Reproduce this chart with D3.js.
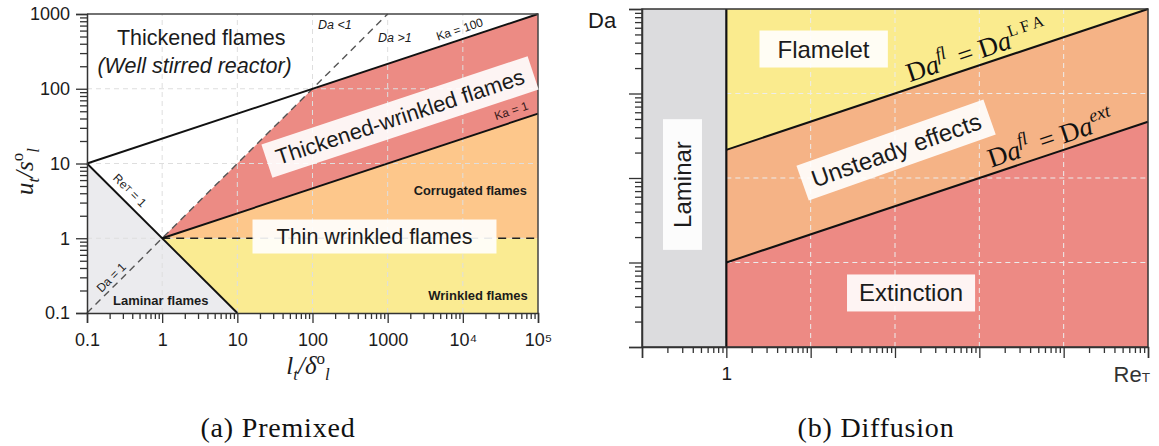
<!DOCTYPE html>
<html><head><meta charset="utf-8">
<script src="https://cdn.jsdelivr.net/npm/d3@7"></script>
<style>body{margin:0;background:#fff} svg{display:block}</style>
</head><body><svg id="c" width="1159" height="446"></svg>
<script>
// ================= DATA =================
// (a) Premixed: x = l_t/δ_l, y = u_t/s_l
const premixedXTicks = [0.1, 1, 10, 100, 1000, 1e4, 1e5];
const premixedXTickLabels = ["0.1", "1", "10", "100", "1000", "10⁴", "10⁵"];
const premixedYTicks = [0.1, 1, 10, 100, 1000];
const premixedYTickLabels = ["0.1", "1", "10", "100", "1000"];
// boundaries
const reT1Line   = [[0.1, 10], [10, 0.1]];
const ka100Line  = [[0.1, 10], [1e5, 1000]];
const ka1Line    = [[1, 1], [1e5, 46.4]];
const da1Line    = [[0.1, 0.1], [1000, 1000]];
const unityLine  = [[1, 1], [1e5, 1]];
// regions
const laminarRegion        = [[0.1, 10], [0.1, 0.1], [10, 0.1]];
const wrinkledRegion       = [[1, 1], [10, 0.1], [1e5, 0.1], [1e5, 1]];
const corrugatedRegion     = [[1, 1], [1e5, 1], [1e5, 46.4]];
const thickWrinkledRegion  = [[1, 1], [100, 100], [1e5, 1000], [1e5, 46.4]];

// (b) Diffusion: x = Re_T, y = Da
const diffusionXTicks = [0.1, 1, 10, 100, 1000, 1e4, 1e5];
const diffusionXTickLabels = ["", "1", "", "", "", "", ""];
const diffusionYTicks = [0.01, 0.1, 1, 10, 100];
const daLFALine = [[1, 2.154], [1e5, 100]];
const daExtLine = [[1, 0.1], [1e5, 4.64]];
const diffLaminarRegion = [[0.1, 0.01], [0.1, 100], [1, 100], [1, 0.01]];
const flameletRegion    = [[1, 2.154], [1, 100], [1e5, 100]];
const unsteadyRegion    = [[1, 0.1], [1, 2.154], [1e5, 100], [1e5, 4.64]];
const extinctionRegion  = [[1, 0.01], [1, 0.1], [1e5, 4.64], [1e5, 0.01]];
const diffusionWall     = [[1, 0.01], [1, 100]];

// ================= DRAW =================
const svg = d3.select('#c');
const SANS = "'Liberation Sans', Arial, Helvetica, sans-serif";
const SERIF = "'Liberation Serif', 'DejaVu Serif', serif";
const TXT = "#1b1b1b";

function pathOf(xs, ys, pts, closed) {
  return d3.line().x(d => xs(d[0])).y(d => ys(d[1]))(pts) + (closed ? "Z" : "");
}
function isMajor(v, majors) { return majors.some(m => Math.abs(Math.log10(m) - Math.log10(v)) < 1e-6); }

function logAxis(g, scale, orient, majors, labels, majorLen, minorLen, pad, fontSize) {
  const all = scale.ticks();
  const axis = (orient === 'left' ? d3.axisLeft(scale) : d3.axisBottom(scale))
    .tickValues(all).tickSizeOuter(0).tickSize(majorLen).tickPadding(pad)
    .tickFormat(d => { const i = majors.findIndex(m => Math.abs(Math.log10(m) - Math.log10(d)) < 1e-6); return i >= 0 ? labels[i] : ""; });
  g.call(axis);
  g.select('.domain').attr('stroke', '#333').attr('stroke-width', 1.5);
  g.selectAll('.tick line').attr('stroke', '#333').attr('stroke-width', 1.3)
    .each(function (d) {
      const len = isMajor(d, majors) ? majorLen : minorLen;
      d3.select(this).attr(orient === 'left' ? 'x2' : 'y2', orient === 'left' ? -len : len);
    });
  g.selectAll('.tick text').attr('font-family', SANS).attr('font-size', fontSize).attr('fill', TXT);
}

function boxed(g, cx, cy, angle, text, size, padX, padY, opts = {}) {
  const grp = g.append('g').attr('transform', `translate(${cx},${cy}) rotate(${angle})`);
  const rect = grp.append('rect');
  const t = grp.append('text').attr('text-anchor', 'middle').attr('dominant-baseline', 'central')
    .attr('font-family', SANS).attr('font-size', size).attr('fill', TXT).text(text);
  const bb = t.node().getBBox();
  rect.attr('x', bb.x - padX).attr('y', bb.y - padY).attr('width', bb.width + 2 * padX)
    .attr('height', bb.height + 2 * padY).attr('fill', '#fff').attr('fill-opacity', opts.op ?? 0.9);
}

function onLine(g, xs, ys, seg, xVal, offset) {
  const p0 = [xs(seg[0][0]), ys(seg[0][1])], p1 = [xs(seg[1][0]), ys(seg[1][1])];
  const ang = Math.atan2(p1[1] - p0[1], p1[0] - p0[0]) * 180 / Math.PI;
  const px = xs(xVal), t = (px - p0[0]) / (p1[0] - p0[0]), py = p0[1] + t * (p1[1] - p0[1]);
  return g.append('g').attr('transform', `translate(${px},${py}) rotate(${ang}) translate(0,${-offset})`);
}

function richText(sel, parts, size) {
  let shift = 0;
  parts.forEach(p => {
    const target = p.sup ? -size * 0.42 : p.sub ? size * 0.22 : 0;
    const ts = sel.append('tspan').text(p.t).attr('dy', target - shift);
    shift = target;
    if (p.it) ts.attr('font-style', 'italic');
    if (p.sup || p.sub) ts.attr('font-size', size * (p.fs || 0.68));
    else if (p.fs) ts.attr('font-size', size * p.fs);
    if (p.dx) ts.attr('dx', p.dx);
  });
  return sel;
}

// ---------- (a) Premixed ----------
const xL = d3.scaleLog().domain([0.1, 1e5]).range([87, 538]);
const yL = d3.scaleLog().domain([0.1, 1000]).range([313, 14]);
const gA = svg.append('g');

gA.append('path').attr('d', pathOf(xL, yL, laminarRegion, true)).attr('fill', '#ebebee');
gA.append('path').attr('d', pathOf(xL, yL, wrinkledRegion, true)).attr('fill', '#faeb92');
gA.append('path').attr('d', pathOf(xL, yL, corrugatedRegion, true)).attr('fill', '#fdc78b');
gA.append('path').attr('d', pathOf(xL, yL, thickWrinkledRegion, true)).attr('fill', '#ec8b84');

// grid
const gridXL = premixedXTicks.slice(1, -1), gridYL = premixedYTicks.slice(1, -1);
gA.selectAll('.gx').data(gridXL).join('line').attr('x1', d => xL(d)).attr('x2', d => xL(d))
  .attr('y1', yL.range()[0]).attr('y2', yL.range()[1])
  .attr('stroke', '#dedede').attr('stroke-width', 1).attr('stroke-dasharray', '5,4');
gA.selectAll('.gy').data(gridYL).join('line').attr('y1', d => yL(d)).attr('y2', d => yL(d))
  .attr('x1', xL.range()[0]).attr('x2', xL.range()[1])
  .attr('stroke', '#dedede').attr('stroke-width', 1).attr('stroke-dasharray', '5,4');

// lines
gA.append('path').attr('d', pathOf(xL, yL, da1Line)).attr('fill', 'none').attr('stroke', '#555').attr('stroke-width', 1.4).attr('stroke-dasharray', '7,5');
gA.append('path').attr('d', pathOf(xL, yL, unityLine)).attr('fill', 'none').attr('stroke', '#222').attr('stroke-width', 1.5).attr('stroke-dasharray', '8,6');
[reT1Line, ka100Line, ka1Line].forEach(l =>
  gA.append('path').attr('d', pathOf(xL, yL, l)).attr('fill', 'none').attr('stroke', '#111').attr('stroke-width', 1.9));

// frame top/right
gA.append('path').attr('d', `M${xL.range()[0]},${yL.range()[1]}H${xL.range()[1]}V${yL.range()[0]}`)
  .attr('fill', 'none').attr('stroke', '#444').attr('stroke-width', 1.5);

// axes
logAxis(gA.append('g').attr('transform', `translate(${xL.range()[0]},0)`), yL, 'left', premixedYTicks, premixedYTickLabels, 11, 7, 6, 18);
logAxis(gA.append('g').attr('transform', `translate(0,${yL.range()[0]})`), xL, 'bottom', premixedXTicks, premixedXTickLabels, 10, 6, 10, 18);

// labels
gA.append('text').attr('x', xL(3.3)).attr('y', yL(385)).attr('text-anchor', 'middle')
  .attr('font-family', SANS).attr('font-size', 21.5).attr('fill', TXT).text('Thickened flames');
gA.append('text').attr('x', xL(2.7)).attr('y', yL(163)).attr('text-anchor', 'middle')
  .attr('font-family', SANS).attr('font-style', 'italic').attr('font-size', 21.5).attr('fill', TXT).text('(Well stirred reactor)');

{
  const p0 = [xL(ka1Line[0][0]), yL(ka1Line[0][1])], p1 = [xL(ka1Line[1][0]), yL(ka1Line[1][1])];
  const ang = Math.atan2(p1[1] - p0[1], p1[0] - p0[0]) * 180 / Math.PI;
  boxed(gA, xL(1460), yL(41.9), ang, 'Thickened-wrinkled flames', 22, 10, 5, { op: 0.9 });
}
boxed(gA, xL(668), yL(1.055), 0, 'Thin wrinkled flames', 21.5, 24, 5, { op: 0.9 });

gA.append('text').attr('x', xL(7.1e4)).attr('y', yL(3.79)).attr('text-anchor', 'end')
  .attr('font-family', SANS).attr('font-weight', 'bold').attr('font-size', 12.8).attr('fill', TXT).text('Corrugated flames');
gA.append('text').attr('x', xL(7.3e4)).attr('y', yL(0.149)).attr('text-anchor', 'end')
  .attr('font-family', SANS).attr('font-weight', 'bold').attr('font-size', 13).attr('fill', TXT).text('Wrinkled flames');
gA.append('text').attr('x', xL(0.222)).attr('y', yL(0.128)).attr('text-anchor', 'start')
  .attr('font-family', SANS).attr('font-weight', 'bold').attr('font-size', 13).attr('fill', TXT).text('Laminar flames');

gA.append('text').attr('x', xL(199)).attr('y', yL(713)).attr('dy', '0.35em').attr('text-anchor', 'middle')
  .attr('font-family', SANS).attr('font-style', 'italic').attr('font-size', 12.5).attr('fill', TXT).text('Da <1');
gA.append('text').attr('x', xL(1250)).attr('y', yL(477)).attr('dy', '0.35em').attr('text-anchor', 'middle')
  .attr('font-family', SANS).attr('font-style', 'italic').attr('font-size', 12.5).attr('fill', TXT).text('Da >1');

onLine(gA, xL, yL, ka100Line, 1e4, 10).append('text').attr('text-anchor', 'middle').attr('dominant-baseline', 'central')
  .attr('font-family', SANS).attr('font-size', 12).attr('fill', TXT).text('Ka = 100');
onLine(gA, xL, yL, ka1Line, 4.9e4, 11).append('text').attr('text-anchor', 'middle').attr('dominant-baseline', 'central')
  .attr('font-family', SANS).attr('font-size', 12).attr('fill', '#3a1a1a').text('Ka = 1');
richText(onLine(gA, xL, yL, reT1Line, 0.292, 11).append('text').attr('text-anchor', 'middle').attr('dominant-baseline', 'central')
  .attr('font-family', SANS).attr('font-size', 12).attr('fill', TXT), [{ t: 'Re' }, { t: 'T', fs: 0.75 }, { t: ' = 1' }], 12);
onLine(gA, xL, yL, da1Line, 0.25, 8).append('text').attr('text-anchor', 'middle').attr('dominant-baseline', 'central')
  .attr('font-family', SANS).attr('font-size', 12).attr('fill', TXT).text('Da = 1');

// axis titles
richText(gA.append('text').attr('transform', `translate(33,${(yL.range()[0] + yL.range()[1]) / 2 + 8}) rotate(-90)`)
  .attr('text-anchor', 'middle').attr('font-family', SERIF).attr('font-size', 25).attr('fill', TXT),
  [{ t: 'u', it: true }, { t: 't', it: true, sub: true }, { t: '/', it: true }, { t: 's', it: true }, { t: 'o', sup: true }, { t: 'l', it: true, sub: true }], 25);
richText(gA.append('text').attr('x', 308).attr('y', 374)
  .attr('text-anchor', 'middle').attr('font-family', SERIF).attr('font-size', 25).attr('fill', TXT),
  [{ t: 'l', it: true }, { t: 't', it: true, sub: true }, { t: '/', it: true }, { t: 'δ', it: true }, { t: 'o', sup: true }, { t: 'l', it: true, sub: true }], 25);

// caption
svg.append('text').attr('x', 278).attr('y', 437).attr('text-anchor', 'middle')
  .attr('font-family', SERIF).attr('font-size', 28).attr('letter-spacing', 0.8).attr('fill', '#111').text('(a) Premixed');

// ---------- (b) Diffusion ----------
const xR = d3.scaleLog().domain([0.1, 1e5]).range([642, 1148]);
const yR = d3.scaleLog().domain([0.01, 100]).range([347, 9]);
const gB = svg.append('g');

gB.append('path').attr('d', pathOf(xR, yR, flameletRegion, true)).attr('fill', '#faeb8e');
gB.append('path').attr('d', pathOf(xR, yR, unsteadyRegion, true)).attr('fill', '#f5b386');
gB.append('path').attr('d', pathOf(xR, yR, extinctionRegion, true)).attr('fill', '#ed8a84');
gB.append('path').attr('d', pathOf(xR, yR, diffLaminarRegion, true)).attr('fill', '#dcdcde');

// grid (turbulent part only)
const gridXR = diffusionXTicks.slice(2, -1), gridYR = diffusionYTicks.slice(1, -1);
gB.selectAll('.gx').data(gridXR).join('line').attr('x1', d => xR(d)).attr('x2', d => xR(d))
  .attr('y1', yR.range()[0]).attr('y2', yR.range()[1])
  .attr('stroke', '#ececec').attr('stroke-width', 1).attr('stroke-dasharray', '5,4');
gB.selectAll('.gy').data(gridYR).join('line').attr('y1', d => yR(d)).attr('y2', d => yR(d))
  .attr('x1', xR(1)).attr('x2', xR.range()[1])
  .attr('stroke', '#ececec').attr('stroke-width', 1).attr('stroke-dasharray', '5,4');

[daLFALine, daExtLine].forEach(l =>
  gB.append('path').attr('d', pathOf(xR, yR, l)).attr('fill', 'none').attr('stroke', '#111').attr('stroke-width', 2));
gB.append('path').attr('d', pathOf(xR, yR, diffusionWall)).attr('fill', 'none').attr('stroke', '#111').attr('stroke-width', 2.2);

gB.append('rect').attr('x', xR.range()[0]).attr('y', yR.range()[1])
  .attr('width', xR.range()[1] - xR.range()[0]).attr('height', yR.range()[0] - yR.range()[1])
  .attr('fill', 'none').attr('stroke', '#333').attr('stroke-width', 1.5);

logAxis(gB.append('g').attr('transform', `translate(${xR.range()[0]},0)`), yR, 'left', diffusionYTicks, ["", "", "", "", ""], 13, 7, 5, 18);
logAxis(gB.append('g').attr('transform', `translate(0,${yR.range()[0]})`), xR, 'bottom', diffusionXTicks, diffusionXTickLabels, 11, 6, 9, 19);

boxed(gB, xR(14.2), yR(33.6), 0, 'Flamelet', 24, 18, 5);
boxed(gB, xR(155), yR(0.0436), 0, 'Extinction', 24, 12, 5);
boxed(gB, xR(0.302), yR(0.837), -90, 'Laminar', 24, 22, 6);
boxed(gB, xR(103), yR(2.14), -19.5, 'Unsteady effects', 24, 10, 5);

function daLabel(seg, xVal, supParts) {
  const t = onLine(gB, xR, yR, seg, xVal, 6).append('text').attr('text-anchor', 'middle')
    .attr('font-family', SERIF).attr('font-size', 27).attr('fill', '#111');
  richText(t, [{ t: 'D' }, { t: 'a', it: true }, { t: 'fl', it: true, sup: true }, { t: ' = ', dx: 4 }, { t: 'D' }, { t: 'a', it: true }].concat(supParts), 27);
}
daLabel(daLFALine, 1047, [{ t: 'L F A', sup: true, fs: 0.6 }]);
daLabel(daExtLine, 7890, [{ t: 'ext', it: true, sup: true }]);

svg.append('text').attr('x', 588).attr('y', 28).attr('font-family', SANS).attr('font-size', 22).attr('fill', TXT).text('Da');
richText(svg.append('text').attr('x', 1150).attr('y', 382).attr('text-anchor', 'end').attr('font-family', SANS).attr('font-size', 22).attr('fill', '#333'),
  [{ t: 'Re' }, { t: 'T', fs: 0.62 }], 22);

svg.append('text').attr('x', 876).attr('y', 437).attr('text-anchor', 'middle')
  .attr('font-family', SERIF).attr('font-size', 28).attr('letter-spacing', 0.8).attr('fill', '#111').text('(b) Diffusion');
</script></body></html>
